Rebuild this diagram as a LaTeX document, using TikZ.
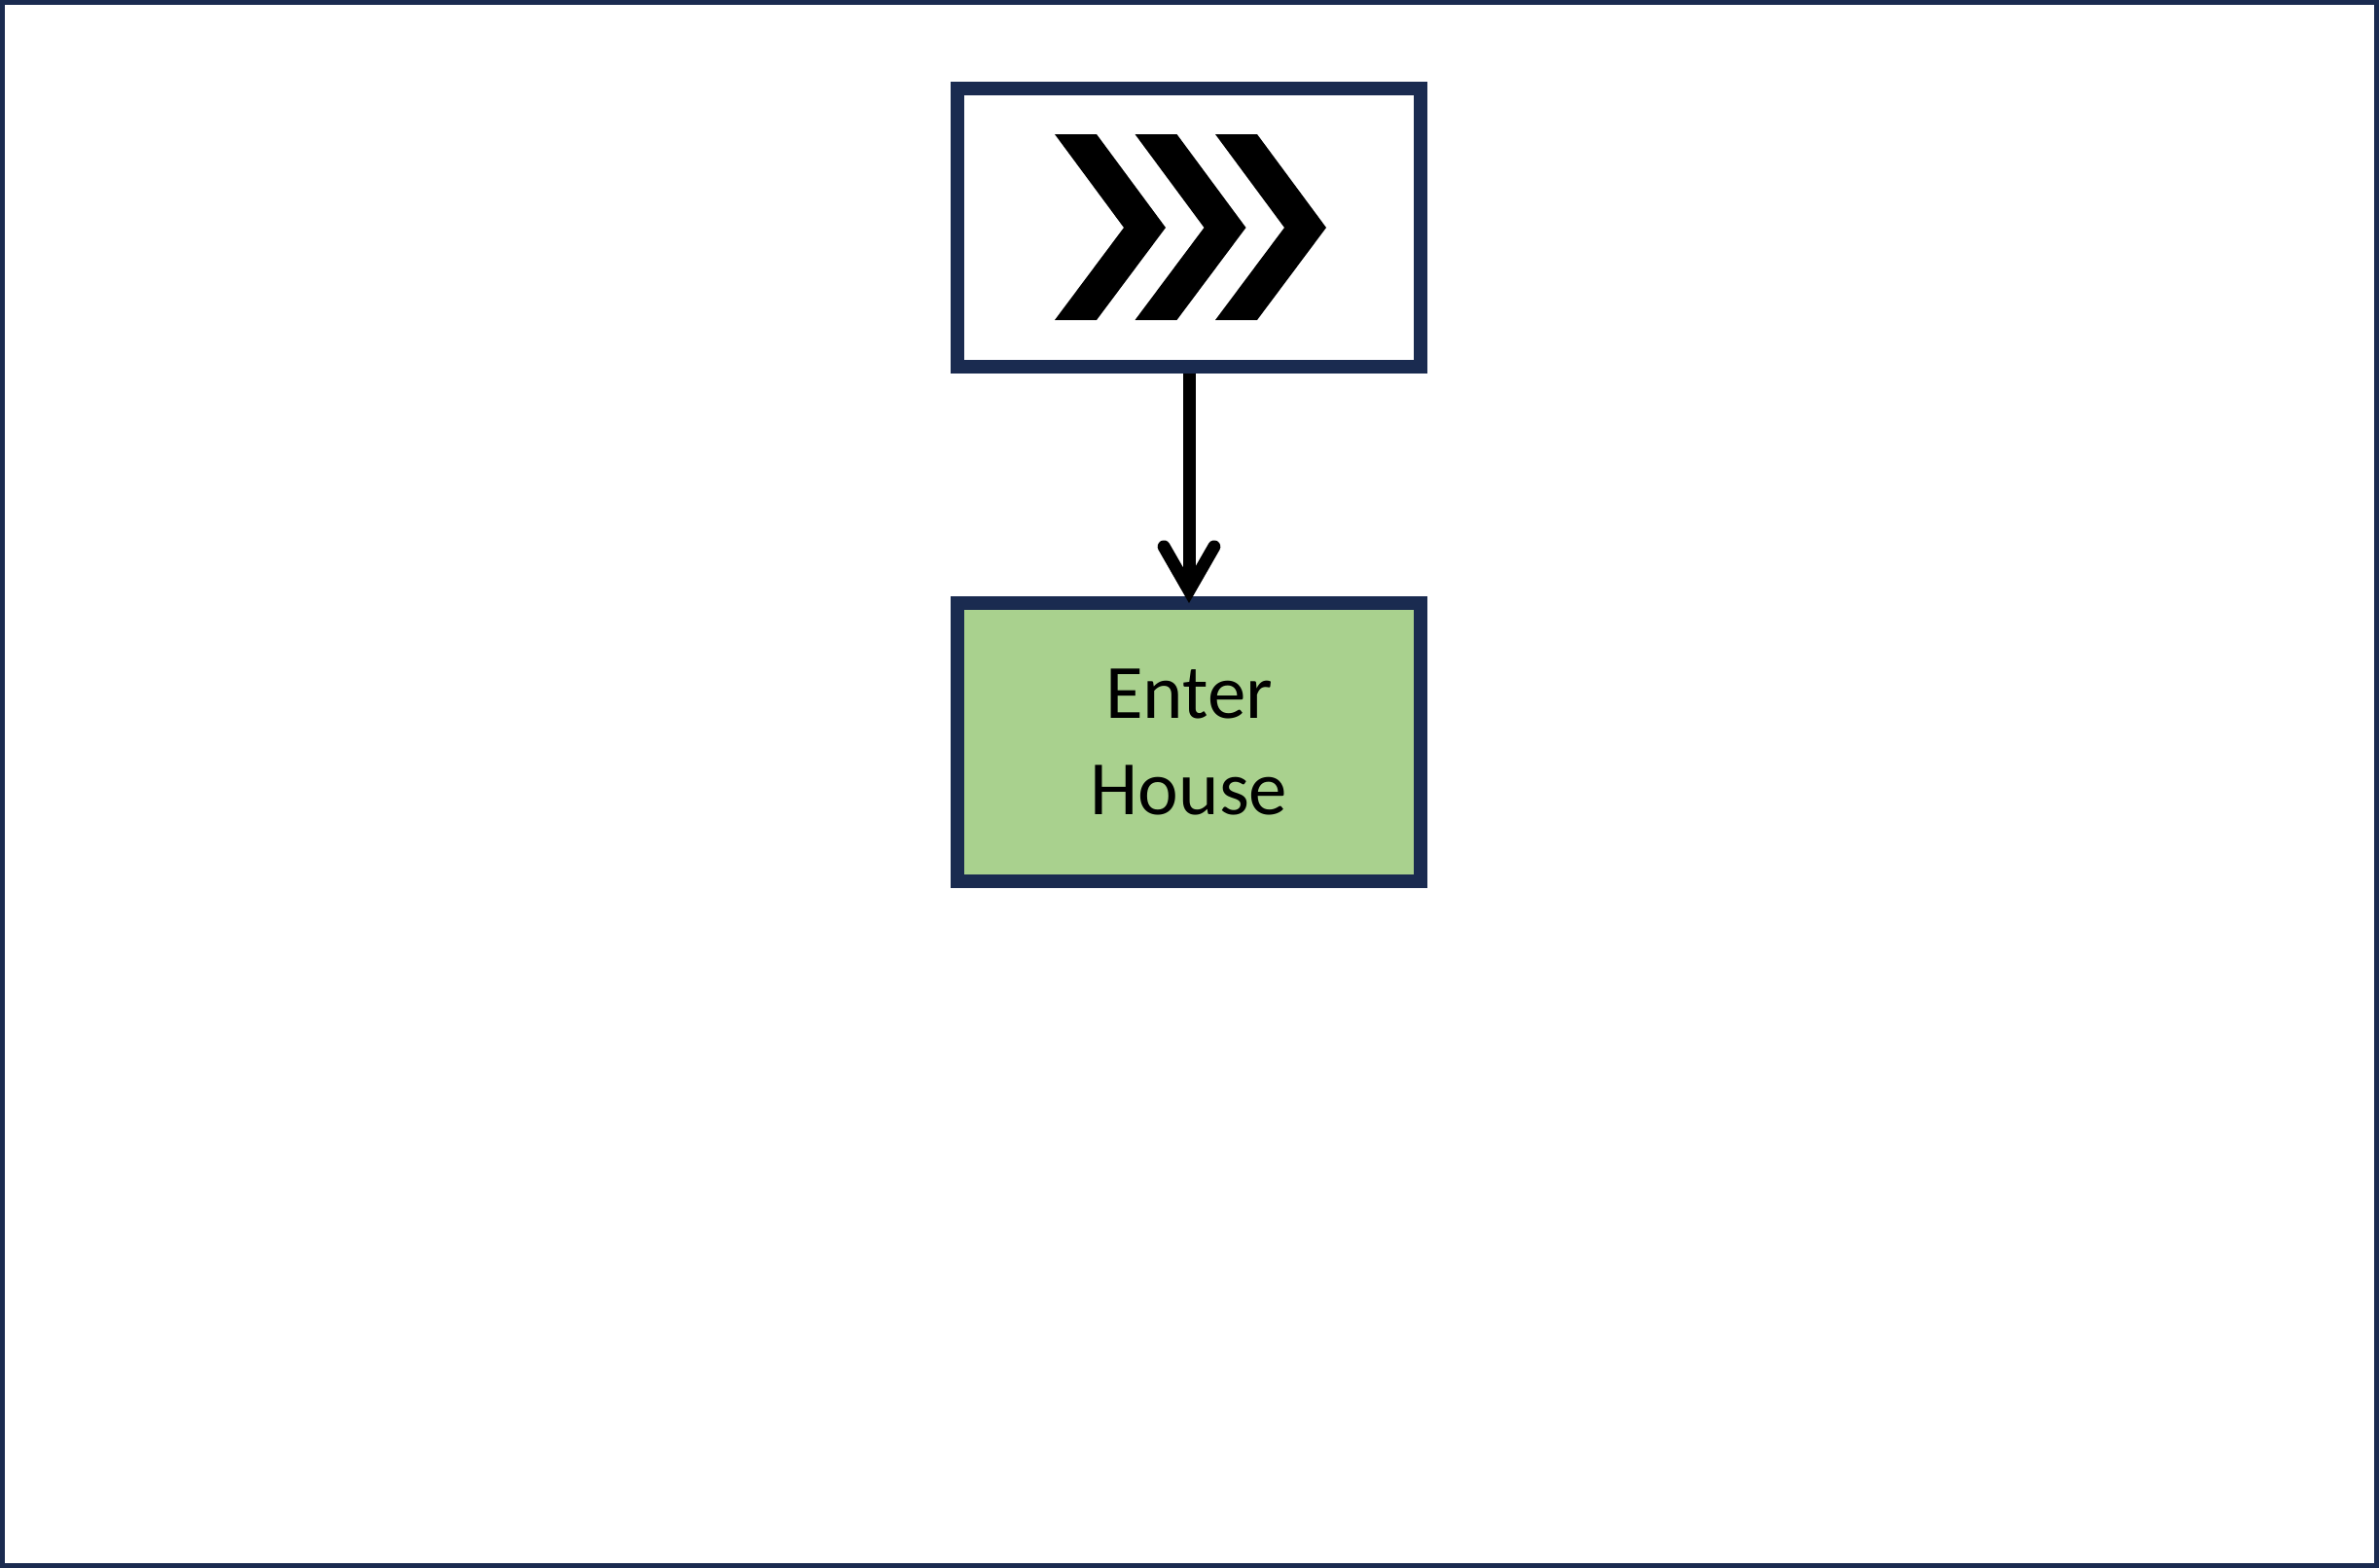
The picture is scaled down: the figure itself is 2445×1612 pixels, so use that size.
\documentclass[tikz,border=0pt]{standalone}
\usepackage{fontspec}
\setmainfont{Carlito}
\usetikzlibrary{arrows.meta}
\definecolor{navy}{HTML}{1A2B50}
\definecolor{leaf}{HTML}{A9D18E}
\tikzset{
  stepbox/.style={draw=navy, line width=4.2pt, minimum width=142.8pt, minimum height=85.8pt, inner sep=0pt, align=center, font=\fontsize{23.7}{29.7}\selectfont},
  flowarrow/.style={draw=black, line width=3.9pt, -{Straight Barb[length=13.5pt, width=15.5pt, line cap=round, line join=miter]}},
  chev/.style={fill=black}
}
\begin{document}
\begin{tikzpicture}[x=0.3pt, y=-0.3pt]
\useasboundingbox (0,0) rectangle (2445,1612);
\draw[navy, line width=1.5pt] (2.5,2.5) rectangle (2442.5,1609.5);
\node[stepbox, fill=white] (start) at (1222,234) {};
\node[stepbox, fill=leaf] (enter) at (1222,763) {Enter\\House};
\foreach \dx in {0,82.5,165} {
  \fill[chev, shift={(\dx,0)}] (1084,138) -- (1127,138) -- (1198,234) -- (1127,329) -- (1084,329) -- (1155,234) -- cycle;
}
\draw[flowarrow, shorten >=-2.1pt] (start.south) -- (enter.north);
\end{tikzpicture}
\end{document}
